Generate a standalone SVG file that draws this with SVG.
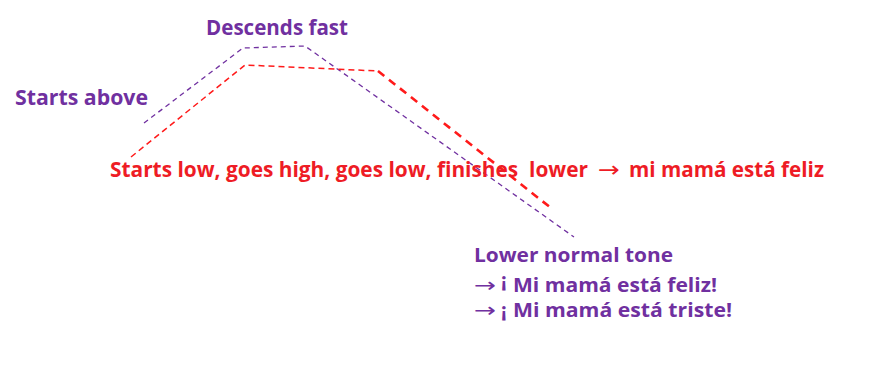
<svg xmlns="http://www.w3.org/2000/svg" width="891" height="368" viewBox="0 0 891 368">
<style>
.t{font-family:"Open Sans","Noto Sans","Liberation Sans",sans-serif;font-weight:bold;white-space:pre}
.a{font-family:"DejaVu Sans","Liberation Sans",sans-serif;font-weight:normal}
.p{fill:#7030A0}
.r{fill:#EE1C25}
.lp{fill:none;stroke:#7030A0;stroke-width:1.3;stroke-dasharray:5 4}
.lr{fill:none;stroke:#FF1A1A;stroke-width:1.5;stroke-dasharray:6 4}
.lr2{fill:none;stroke:#FF1A1A;stroke-width:2.6;stroke-dasharray:8 6}
</style>
<rect width="891" height="368" fill="#fff"/>
<g id="connectors">
<polyline class="lp" points="144,123 243,48 305,46 574,237"/>
<polyline class="lr" points="131,157 245,65 378,71"/>
<line class="lr2" x1="378" y1="71" x2="551" y2="208"/>
</g>
<g id="descends-fast"><text class="t p" x="206" y="35" font-size="21" textLength="142" lengthAdjust="spacingAndGlyphs">Descends fast</text></g>
<g id="starts-above"><text class="t p" x="15" y="105" font-size="21" textLength="133" lengthAdjust="spacingAndGlyphs">Starts above</text></g>
<g id="red-label">
<text class="t r" x="110" y="177" font-size="22" textLength="478" lengthAdjust="spacingAndGlyphs">Starts low, goes high, goes low, finishes  lower</text>
<text class="a r" x="598" y="177" font-size="22" textLength="22" lengthAdjust="spacingAndGlyphs">→</text>
<text class="t r" x="629" y="177" font-size="22" textLength="195" lengthAdjust="spacingAndGlyphs">mi mamá está feliz</text>
</g>
<g id="lower-normal-tone">
<text class="t p" x="474" y="262" font-size="20" textLength="199" lengthAdjust="spacingAndGlyphs">Lower normal tone</text>
<text class="t p" y="292" font-size="20"><tspan class="a" x="474" textLength="22" lengthAdjust="spacingAndGlyphs">→</tspan><tspan x="501" dy="-5">¡</tspan><tspan dy="5" x="513" textLength="204" lengthAdjust="spacingAndGlyphs">Mi mamá está feliz!</tspan></text>
<text class="t p" y="317" font-size="20"><tspan class="a" x="474" textLength="22" lengthAdjust="spacingAndGlyphs">→</tspan><tspan x="501">¡</tspan><tspan x="513" textLength="219" lengthAdjust="spacingAndGlyphs">Mi mamá está triste!</tspan></text>
</g>
</svg>
